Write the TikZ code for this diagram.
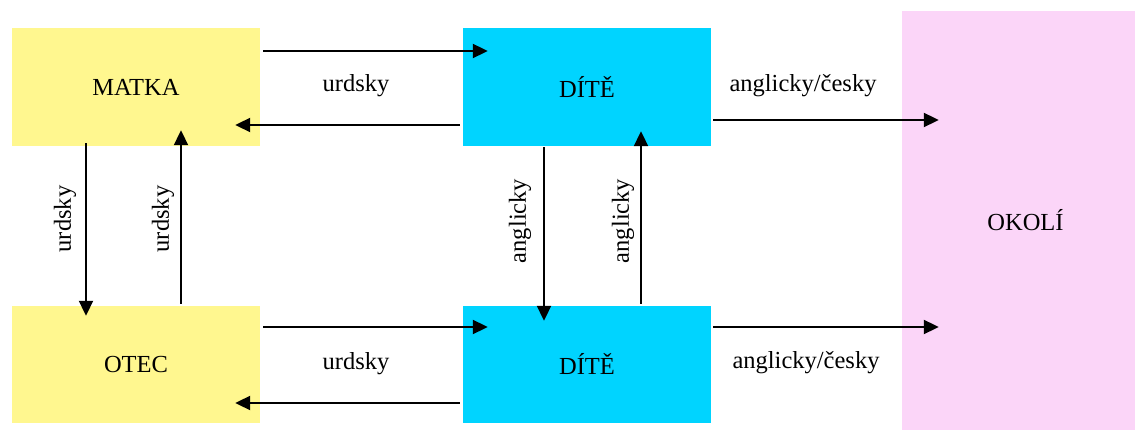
\documentclass[tikz,border=0pt]{standalone}
\usepackage{fontspec}
\setmainfont{Liberation Serif}
\usetikzlibrary{calc,arrows.meta}
\definecolor{ylw}{HTML}{FFF78F}
\definecolor{cyn}{HTML}{00D4FF}
\definecolor{pnk}{HTML}{FBD5F8}
\begin{document}
\begin{tikzpicture}[x=1pt,y=1pt,
  box/.style={draw=none,minimum width=248pt,minimum height=118pt,inner sep=0pt,
    font=\fontsize{24.5}{29}\selectfont},
  lbl/.style={inner sep=0pt,font=\fontsize{24.5}{29}\selectfont},
  arr/.style={line width=2pt,-{Triangle[length=15pt,width=14pt]}}]
\useasboundingbox (0,0) rectangle (1136,434);
\fill[white] (0,0) rectangle (1136,434);
\node[box,fill=ylw] (matka) at (136,347) {MATKA};
\node[box,fill=cyn] (dite1) at (587,347) {DÍTĚ};
\node[box,fill=ylw,minimum height=117pt] (otec) at (136,69.5) {OTEC};
\node[box,fill=cyn,minimum height=117pt] (dite2) at (587,69.5) {DÍTĚ};
\node[box,fill=pnk,minimum width=233pt,minimum height=419pt] (okoli) at (1018.5,213.5) {\hspace*{14pt}OKOLÍ};
% horizontal arrows
\draw[arr] ($(matka.east)+(3,36)$) -- ($(dite1.west)+(25,36)$);
\draw[arr] ($(dite1.west)+(-3,-38)$) -- ($(matka.east)+(-25,-38)$);
\draw[arr] ($(dite1.east)+(2,-33)$) -- ($(okoli.west)+(37,100.5)$);
\draw[arr] ($(otec.east)+(3,37.5)$) -- ($(dite2.west)+(25,37.5)$);
\draw[arr] ($(dite2.west)+(-3,-38.5)$) -- ($(otec.east)+(-25,-38.5)$);
\draw[arr] ($(dite2.east)+(2,37.5)$) -- ($(okoli.west)+(37,-106.5)$);
% vertical arrows
\draw[arr] ($(matka.south)+(-50,3)$) -- ($(otec.north)+(-50,-10)$);
\draw[arr] ($(otec.north)+(45,2)$) -- ($(matka.south)+(45,16)$);
\draw[arr] ($(dite1.south)+(-43,-1)$) -- ($(dite2.north)+(-43,-15)$);
\draw[arr] ($(dite2.north)+(54,2)$) -- ($(dite1.south)+(54,15)$);
% labels
\node[lbl] (l1) at (356,348) {urdsky};
\node[lbl] (l2) at (356,70) {urdsky};
\node[lbl] (l3) at (803,348) {anglicky/česky};
\node[lbl] (l4) at (806,71) {anglicky/česky};
\node[lbl,rotate=90] (l5) at (65,215) {urdsky};
\node[lbl,rotate=90] (l6) at (163,215) {urdsky};
\node[lbl,rotate=90] (l7) at (520,213) {anglicky};
\node[lbl,rotate=90] (l8) at (623,213) {anglicky};
\end{tikzpicture}
\end{document}
